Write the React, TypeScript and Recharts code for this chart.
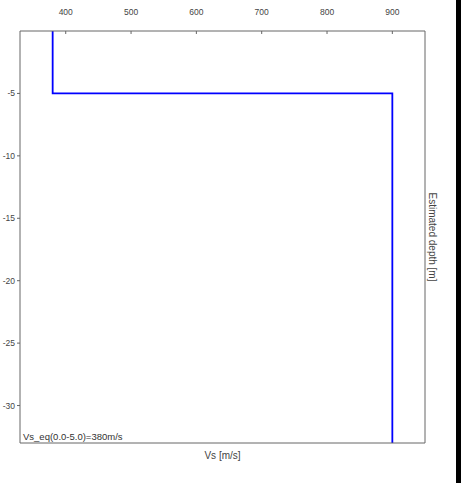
import React from 'react';
import { LineChart, Line, XAxis, YAxis } from 'recharts';

const vsProfile = [380, 380, 900, 900];
const depthProfile = [0, -5, -5, -33];
const xTicks = [400, 500, 600, 700, 800, 900];
const yTicks = [-30, -25, -20, -15, -10, -5];
const xDomain = [330, 950];
const yDomain = [-33, 0];
const annotation = 'Vs_eq(0.0-5.0)=380m/s';
const xLabel = 'Vs [m/s]';
const yLabel = 'Estimated depth [m]';

const data = vsProfile.map((vs, i) => ({ vs, depth: depthProfile[i] }));

const FONT = 'Arial, "Liberation Sans", sans-serif';
const AXIS = '#666';
const TXT = '#444';

export default function App() {
  return (
    <div style={{ position: 'absolute', left: 0, top: 0, width: 461, height: 483, background: '#fff' }}>
      <LineChart
        width={461}
        height={483}
        data={data}
        margin={{ top: 0, right: 0, bottom: 0, left: 0 }}
        style={{ fontFamily: FONT }}
      >
        <XAxis
          xAxisId="top"
          dataKey="vs"
          type="number"
          orientation="top"
          domain={xDomain}
          ticks={xTicks}
          height={31}
          tickSize={-3}
          tickMargin={19}
          stroke={AXIS}
          tick={{ fontSize: 8.5, fill: TXT, fontFamily: FONT }}
          axisLine={{ stroke: AXIS }}
          tickLine={{ stroke: AXIS }}
          interval={0}
        />
        <XAxis
          xAxisId="bottom"
          dataKey="vs"
          type="number"
          orientation="bottom"
          domain={xDomain}
          height={40}
          tick={false}
          tickLine={false}
          axisLine={{ stroke: AXIS }}
          label={{ value: xLabel, position: 'insideTop', offset: 9, fontSize: 10, fill: TXT, fontFamily: FONT }}
        />
        <YAxis
          yAxisId="left"
          type="number"
          orientation="left"
          domain={yDomain}
          ticks={yTicks}
          width={20}
          tickSize={3}
          tickMargin={2}
          tick={{ fontSize: 8.5, fill: TXT, fontFamily: FONT }}
          axisLine={{ stroke: AXIS }}
          tickLine={{ stroke: AXIS }}
          interval={0}
        />
        <YAxis
          yAxisId="right"
          type="number"
          orientation="right"
          domain={yDomain}
          width={36}
          tick={false}
          tickLine={false}
          axisLine={{ stroke: AXIS }}
          label={{
            value: yLabel,
            position: 'insideLeft',
            angle: 90,
            offset: 8,
            fontSize: 10,
            fill: TXT,
            fontFamily: FONT,
            style: { textAnchor: 'middle' },
          }}
        />
        <Line
          xAxisId="top"
          yAxisId="left"
          dataKey="depth"
          type="linear"
          stroke="#0000ff"
          strokeWidth={1.8}
          dot={false}
          activeDot={false}
          isAnimationActive={false}
        />
        <text x={23} y={440} fontSize={9.5} fill="#333" fontFamily={FONT}>
          {annotation}
        </text>
      </LineChart>
      <div style={{ position: 'absolute', left: 456, top: 0, width: 5, height: 483, background: '#000' }} />
    </div>
  );
}
